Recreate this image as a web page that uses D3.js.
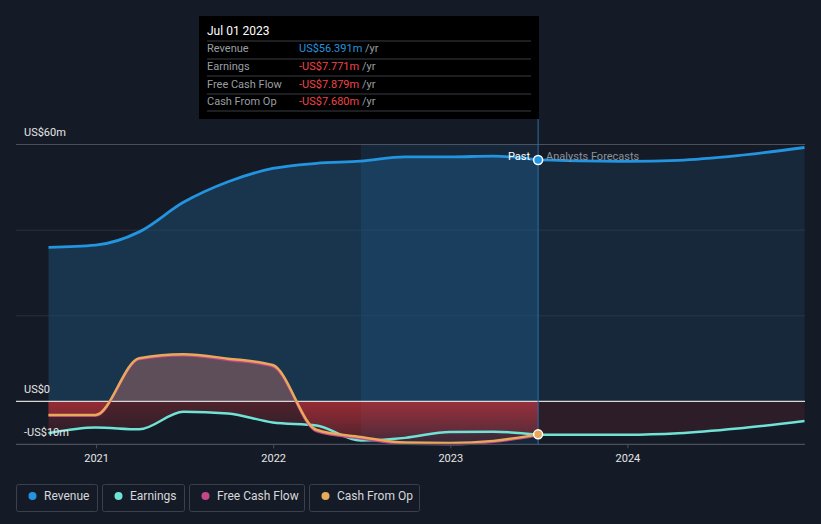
<!DOCTYPE html>
<html>
<head>
<meta charset="utf-8">
<script src="https://cdn.jsdelivr.net/npm/d3@7"></script>
<style>
  html, body { margin: 0; padding: 0; background: #151b26; }
  svg { display: block; font-family: Roboto, "Noto Sans", sans-serif; }
</style>
</head>
<body>
<svg id="chart" width="821" height="524"></svg>
<script>
// ---- data ----
const pastDates = ["2020-09-25","2020-12-31","2021-03-31","2021-06-30","2021-09-30","2021-12-31","2022-03-31","2022-06-30","2022-09-30","2022-12-31","2023-03-31","2023-07-01"];
const revenuePast   = [36.0, 36.5, 39.6, 46.5, 51.3, 54.4, 55.6, 56.1, 57.1, 57.1, 57.3, 56.391];
const earningsPast  = [-7.4, -6.1, -6.5, -2.4, -2.8, -4.9, -5.6, -9.1, -8.5, -7.1, -7.05, -7.771];
const fcfPast       = [-3.3, -3.3, 9.9, 10.8, 9.7, 8.2, -6.9, -8.6, -9.9, -10.0, -9.4, -7.879];
const cfoPast       = [-3.15, -3.15, 10.1, 11.0, 10.0, 8.5, -6.6, -8.3, -9.6, -9.7, -9.2, -7.680];
const revForecastDates = ["2023-07-01","2023-12-31","2024-04-15","2024-08-15","2024-12-31"];
const revenueForecast  = [56.391, 56.05, 56.3, 57.4, 59.3];
const earnForecastDates = ["2023-07-01","2023-12-31","2024-04-15","2024-08-15","2024-12-31"];
const earningsForecast  = [-7.771, -7.75, -7.4, -6.3, -4.55];
const yTickValues = [60, 0, -10];
const yTickLabels = ["US$60m", "US$0", "-US$10m"];
const xTickYears = [2021, 2022, 2023, 2024];
const legendItems = ["Revenue", "Earnings", "Free Cash Flow", "Cash From Op"];
const tooltipDate = "Jul 01 2023";
const tooltipRows = [
  ["Revenue", "US$56.391m"],
  ["Earnings", "-US$7.771m"],
  ["Free Cash Flow", "-US$7.879m"],
  ["Cash From Op", "-US$7.680m"]
];

const colors = { rev: "#2394df", earn: "#6fe3d5", fcf: "#c5478a", cfo: "#e8a95b" };
const legendColors = [colors.rev, colors.earn, colors.fcf, colors.cfo];

const parse = d3.utcParse("%Y-%m-%d");
const zip = (ds, vs) => ds.map((d, i) => ({ date: parse(d), v: vs[i] }));

const rev = zip(pastDates, revenuePast);
const earn = zip(pastDates, earningsPast);
const fcf = zip(pastDates, fcfPast);
const cfo = zip(pastDates, cfoPast);
const revF = zip(revForecastDates, revenueForecast);
const earnF = zip(earnForecastDates, earningsForecast);

const svg = d3.select("#chart");
const L = 16, R = 805;
const x = d3.scaleUtc().domain([parse("2020-07-20"), parse("2025-01-01")]).range([L, R]);
const y = d3.scaleLinear().domain([-10, 60]).range([444.3, 144.5]);

const defs = svg.append("defs");
const redGrad = defs.append("linearGradient").attr("id", "redGrad").attr("x1", 0).attr("x2", 0)
  .attr("gradientUnits", "userSpaceOnUse").attr("y1", y(0)).attr("y2", y(-10));
redGrad.append("stop").attr("offset", 0).attr("stop-color", "#d8343c").attr("stop-opacity", 0.3);
redGrad.append("stop").attr("offset", 1).attr("stop-color", "#d8343c").attr("stop-opacity", 0.08);

const xPast = x(parse("2023-07-01"));
defs.append("clipPath").attr("id", "clipPos").append("rect").attr("x", 0).attr("y", 0).attr("width", 821).attr("height", y(0));
defs.append("clipPath").attr("id", "clipNeg").append("rect").attr("x", 0).attr("y", y(0)).attr("width", 821).attr("height", 200);

const curve = d3.curveMonotoneX;
const line = d3.line().x(d => x(d.date)).y(d => y(d.v)).curve(curve);
const area = d3.area().x(d => x(d.date)).y0(y(0)).y1(d => y(d.v)).curve(curve);

// gridlines
[20, 40].forEach(v => svg.append("line").attr("x1", L).attr("x2", R).attr("y1", y(v)).attr("y2", y(v))
  .attr("stroke", "#2a323e").attr("stroke-width", 1));
svg.append("line").attr("x1", L).attr("x2", R).attr("y1", y(60)).attr("y2", y(60)).attr("stroke", "#4a505a");

// revenue areas
svg.append("path").attr("d", area(rev)).attr("fill", "#1d4a70").attr("fill-opacity", 0.55);
svg.append("path").attr("d", area(revF)).attr("fill", "#1d4a70").attr("fill-opacity", 0.28);

// highlight band (last 12 months)
svg.append("rect").attr("x", x(parse("2022-07-01"))).attr("width", xPast - x(parse("2022-07-01")))
  .attr("y", y(60)).attr("height", y(-10) - y(60)).attr("fill", "#2394df").attr("fill-opacity", 0.1);

// positive fills for cash flows
const posG = svg.append("g").attr("clip-path", "url(#clipPos)");
posG.append("path").attr("d", area(fcf)).attr("fill", colors.fcf).attr("fill-opacity", 0.2);
posG.append("path").attr("d", area(cfo)).attr("fill", colors.cfo).attr("fill-opacity", 0.2);

// negative fills
const negG = svg.append("g").attr("clip-path", "url(#clipNeg)");
[earn, fcf, cfo].forEach(s => negG.append("path").attr("d", area(s)).attr("fill", "url(#redGrad)"));
negG.append("path").attr("d", area(earnF)).attr("fill", "#d8343c").attr("fill-opacity", 0.12);

// zero line
svg.append("line").attr("x1", L).attr("x2", R).attr("y1", y(0)).attr("y2", y(0)).attr("stroke", "#d8d8d8").attr("stroke-width", 1.2);

// lines
svg.append("path").attr("d", line(earn)).attr("fill", "none").attr("stroke", colors.earn).attr("stroke-width", 2.5);
svg.append("path").attr("d", line(earnF)).attr("fill", "none").attr("stroke", colors.earn).attr("stroke-width", 2.5);
svg.append("path").attr("d", line(fcf)).attr("fill", "none").attr("stroke", colors.fcf).attr("stroke-width", 2.5);
svg.append("path").attr("d", line(cfo)).attr("fill", "none").attr("stroke", colors.cfo).attr("stroke-width", 2.5);
svg.append("path").attr("d", line(rev)).attr("fill", "none").attr("stroke", colors.rev).attr("stroke-width", 2.8);
svg.append("path").attr("d", line(revF)).attr("fill", "none").attr("stroke", colors.rev).attr("stroke-width", 2.8);

// bottom axis
const axisY = y(-10);
svg.append("line").attr("x1", L).attr("x2", R).attr("y1", axisY).attr("y2", axisY).attr("stroke", "#4a505a").attr("stroke-width", 1.2);
const xAxis = d3.axisBottom(x).tickValues(xTickYears.map(yr => new Date(Date.UTC(yr, 0, 1))))
  .tickFormat(d3.utcFormat("%Y")).tickSize(4).tickPadding(6);
const gx = svg.append("g").attr("transform", `translate(0,${axisY})`).call(xAxis);
gx.select(".domain").remove();
gx.selectAll(".tick line").attr("stroke", "#4a505a");
gx.selectAll(".tick text").attr("fill", "#e6e6e6").attr("font-size", 11).attr("font-family", "Roboto, sans-serif");

// y labels
const yLabelOffsets = [-9, -8, -8];
yTickValues.forEach((v, i) => {
  svg.append("text").attr("x", 24).attr("y", y(v) + yLabelOffsets[i]).attr("fill", "#e6e6e6")
    .attr("font-size", 11).text(yTickLabels[i]);
});

// past / forecast divider
svg.append("line").attr("x1", xPast).attr("x2", xPast).attr("y1", 119).attr("y2", axisY)
  .attr("stroke", "#2a6fa8").attr("stroke-width", 1);
svg.append("text").attr("x", xPast - 8).attr("y", 160).attr("text-anchor", "end").attr("fill", "#ffffff")
  .attr("font-size", 11).text("Past");
svg.append("text").attr("x", xPast + 8).attr("y", 160).attr("fill", "#8a929c")
  .attr("font-size", 11).text("Analysts Forecasts");

// markers
svg.append("circle").attr("cx", xPast).attr("cy", y(revenuePast[revenuePast.length - 1])).attr("r", 4.5)
  .attr("fill", colors.rev).attr("stroke", "#ffffff").attr("stroke-width", 1.5);
svg.append("circle").attr("cx", xPast).attr("cy", y(cfoPast[cfoPast.length - 1])).attr("r", 4.5)
  .attr("fill", colors.cfo).attr("stroke", "#ffffff").attr("stroke-width", 1.5);

// tooltip
const tt = svg.append("g");
tt.append("rect").attr("x", 199).attr("y", 16).attr("width", 340).attr("height", 103).attr("fill", "#000000");
tt.append("text").attr("x", 207).attr("y", 35).attr("fill", "#ffffff").attr("font-size", 12).text(tooltipDate);
const rowY = [52, 70, 88, 105];
[41, 59, 76, 94, 111].forEach(ly => tt.append("line").attr("x1", 207).attr("x2", 531).attr("y1", ly).attr("y2", ly)
  .attr("stroke", "#3a3d42").attr("stroke-width", 1));
tooltipRows.forEach((r, i) => {
  tt.append("text").attr("x", 207).attr("y", rowY[i]).attr("fill", "#9a9ea4").attr("font-size", 11).text(r[0]);
  const t = tt.append("text").attr("x", 299).attr("y", rowY[i]).attr("font-size", 11);
  t.append("tspan").attr("fill", i === 0 ? "#2394df" : "#f0444a").text(r[1]);
  t.append("tspan").attr("fill", "#9a9ea4").text(" /yr");
});

// legend
const legX = [16, 102, 189, 309], legW = [81, 82, 115, 110];
legendItems.forEach((name, i) => {
  const g = svg.append("g").attr("transform", `translate(${legX[i]},484)`);
  g.append("rect").attr("x", 0.5).attr("y", 0.5).attr("width", legW[i]).attr("height", 27).attr("rx", 2)
    .attr("fill", "none").attr("stroke", "#3a414c");
  g.append("circle").attr("cx", 16.5).attr("cy", 12).attr("r", 4).attr("fill", legendColors[i]);
  g.append("text").attr("x", 28).attr("y", 16).attr("fill", "#d6d8dc").attr("font-size", 12).text(name);
});
</script>
</body>
</html>
